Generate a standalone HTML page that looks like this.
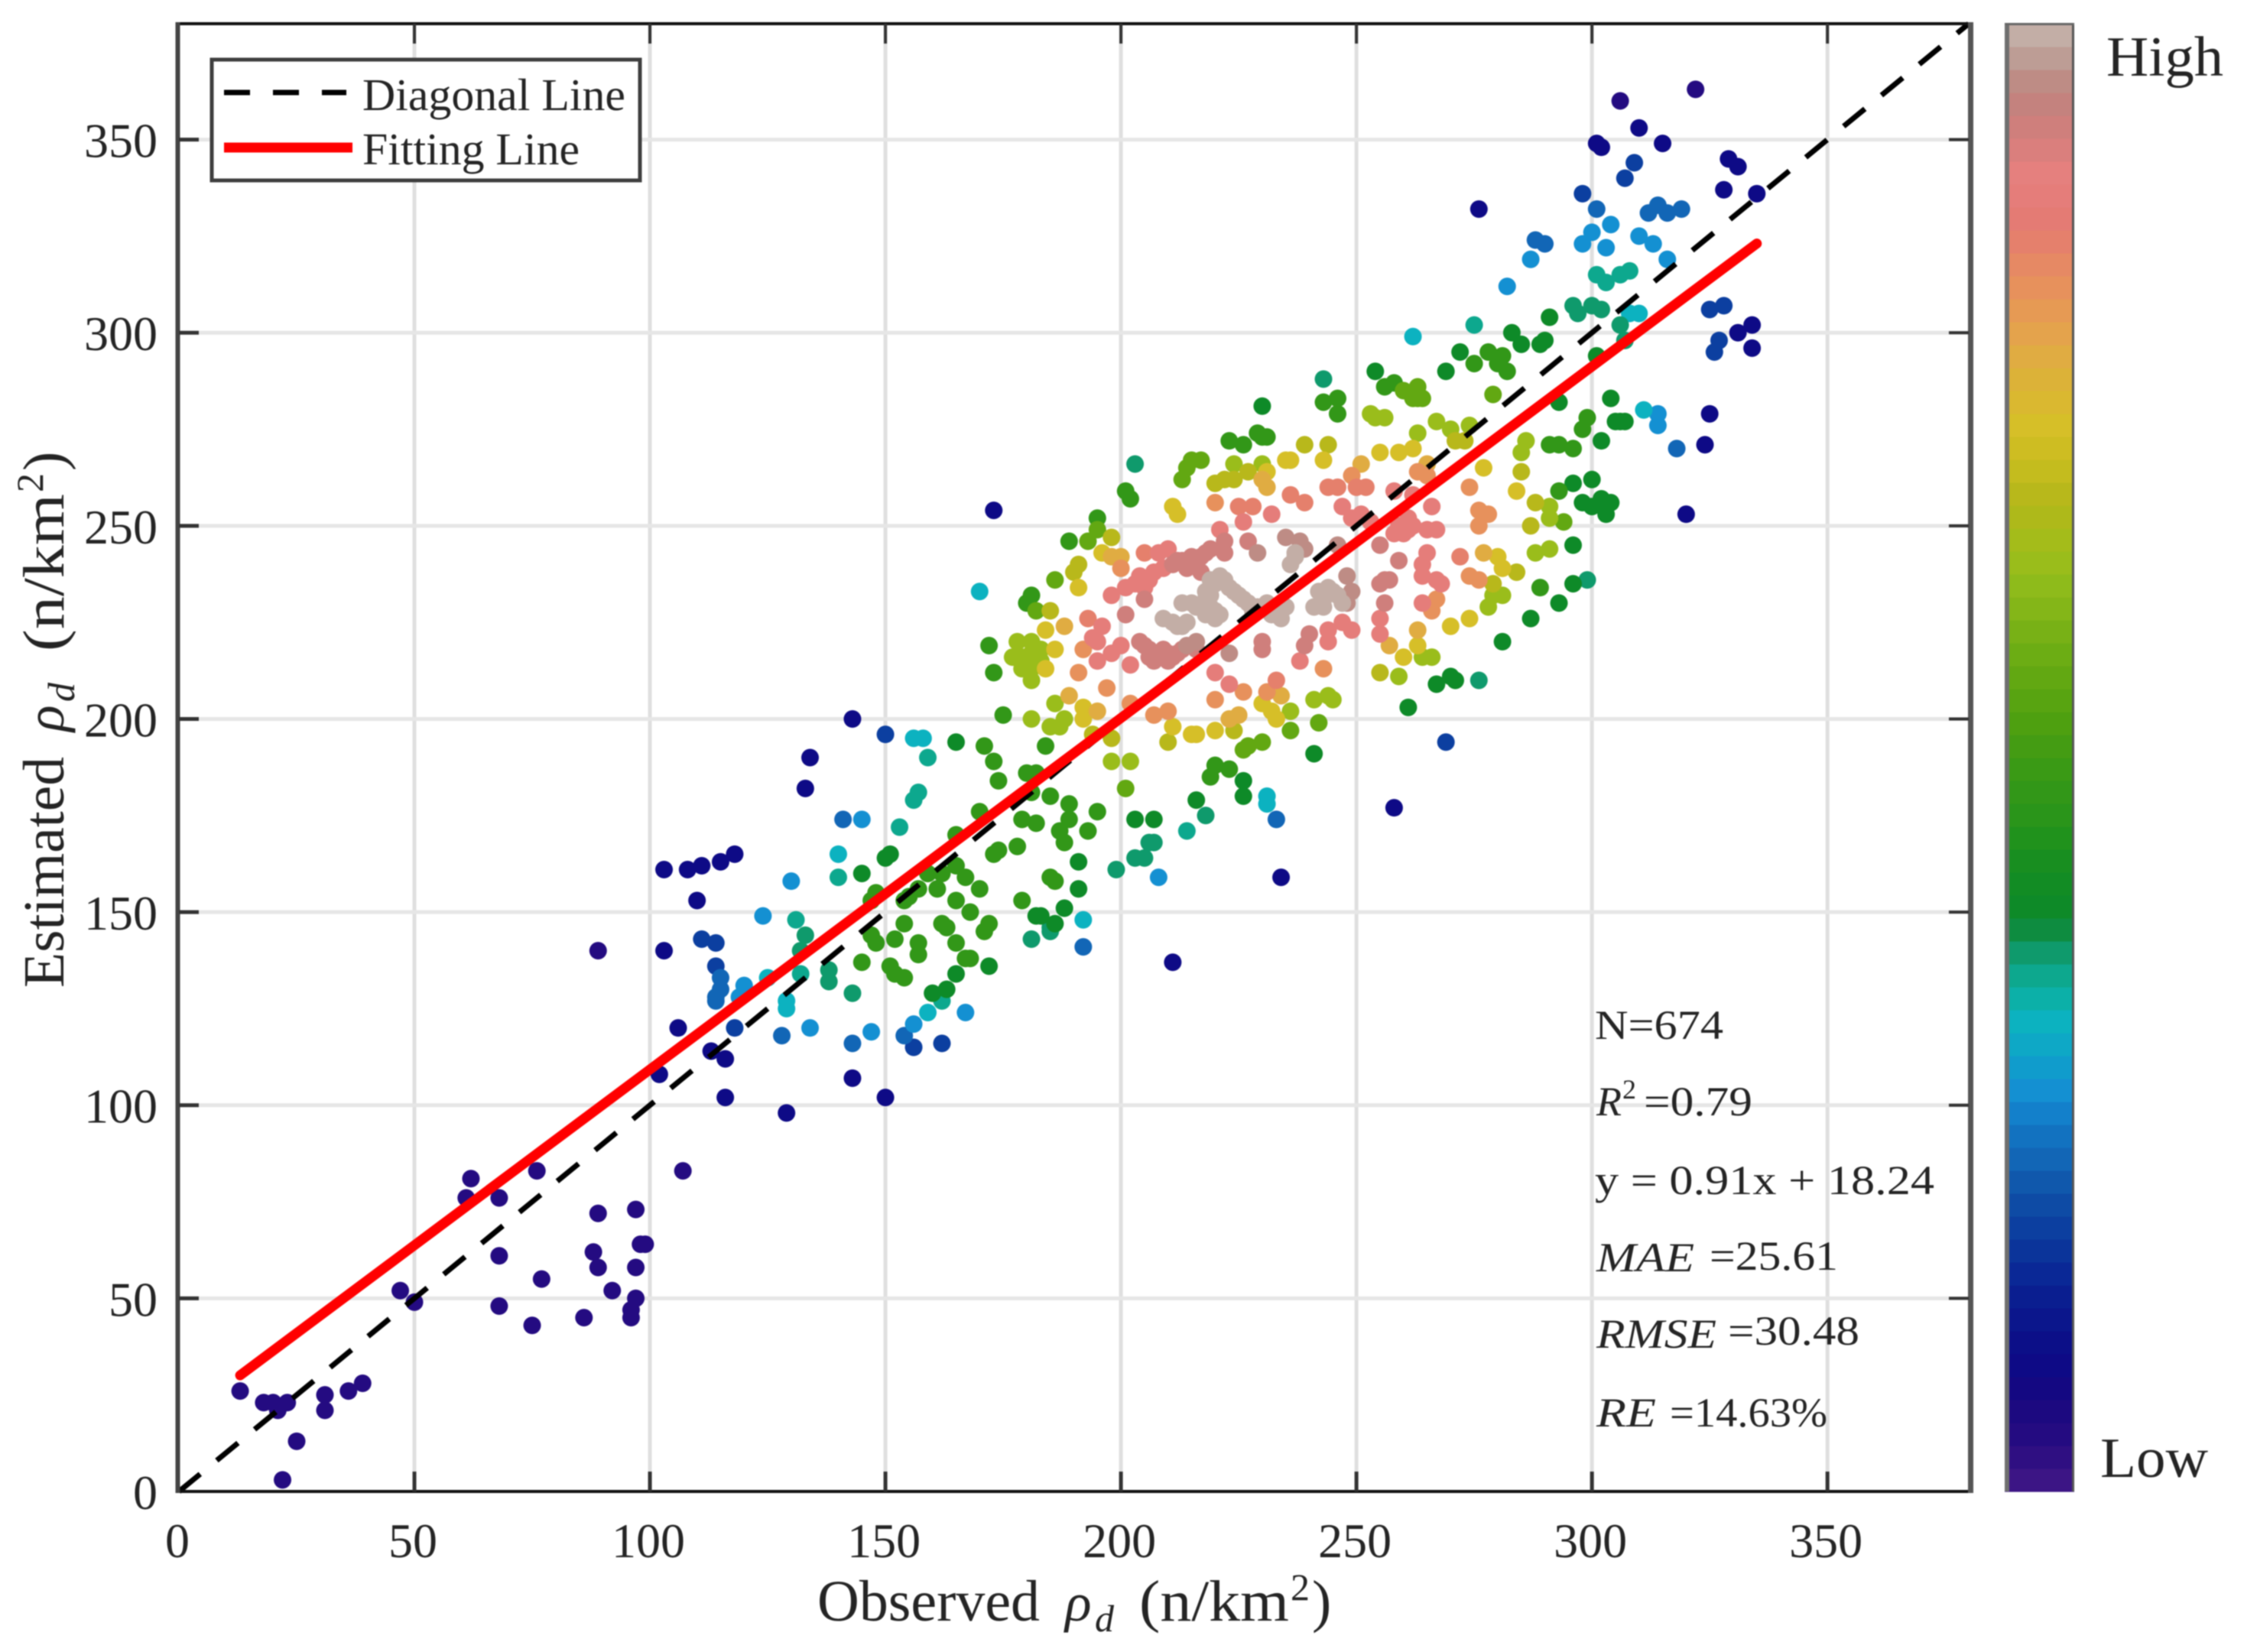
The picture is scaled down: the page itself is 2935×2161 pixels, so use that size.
<!DOCTYPE html>
<html lang="en">
<head>
<meta charset="utf-8">
<title>Observed vs Estimated density scatter</title>
<style>
html,body{margin:0;padding:0;background:#fff;width:2935px;height:2161px;overflow:hidden}
svg{display:block;filter:blur(0.8px)}
text{font-family:"Liberation Serif",serif;fill:#242424}
</style>
</head>
<body>
<svg id="chart" xmlns="http://www.w3.org/2000/svg" width="2935" height="2161" viewBox="0 0 2935 2161">
<rect x="0" y="0" width="2935" height="2161" fill="#fff"/>
<g id="grid"></g>
<g id="points"></g>
<g id="lines"></g>
<g id="axes"></g>
<g id="colorbar"></g>

<text x="1069" y="2120" font-size="76" textLength="291" lengthAdjust="spacingAndGlyphs">Observed</text>
<text x="1393" y="2120" font-size="72" font-style="italic">ρ</text>
<text x="1432" y="2134" font-size="50" font-style="italic">d</text>
<text x="1490" y="2120" font-size="76" textLength="196" lengthAdjust="spacingAndGlyphs">(n/km</text>
<text x="1688" y="2093" font-size="50">2</text>
<text x="1716" y="2120" font-size="76">)</text>

<g transform="translate(83,1292) rotate(-90)">
<text x="0" y="0" font-size="76" textLength="302" lengthAdjust="spacingAndGlyphs">Estimated</text>
<text x="335" y="0" font-size="72" font-style="italic">ρ</text>
<text x="374" y="14" font-size="50" font-style="italic">d</text>
<text x="440" y="0" font-size="76" textLength="206" lengthAdjust="spacingAndGlyphs">(n/km</text>
<text x="648" y="-27" font-size="50">2</text>
<text x="676" y="0" font-size="76">)</text>
</g>

<g>
<rect x="277" y="78" width="560" height="158" fill="#fff" stroke="#3e3e3e" stroke-width="5"/>
<line x1="293" y1="121" x2="453" y2="121" stroke="#000" stroke-width="7" stroke-dasharray="34 30"/>
<line x1="293" y1="193" x2="461" y2="193" stroke="#ff0000" stroke-width="13"/>
<text x="474" y="144" font-size="59" textLength="344" lengthAdjust="spacingAndGlyphs">Diagonal Line</text>
<text x="474" y="215" font-size="59" textLength="284" lengthAdjust="spacingAndGlyphs">Fitting Line</text>
</g>

<g>
<text x="2086" y="1359" font-size="54" textLength="168" lengthAdjust="spacingAndGlyphs">N=674</text>
<text x="2088" y="1459" font-size="54" font-style="italic">R</text>
<text x="2122" y="1437" font-size="36">2</text>
<text x="2150" y="1459" font-size="54" textLength="142" lengthAdjust="spacingAndGlyphs">=0.79</text>
<text x="2086" y="1562" font-size="54" textLength="444" lengthAdjust="spacingAndGlyphs">y = 0.91x + 18.24</text>
<text x="2088" y="1663" font-size="54" font-style="italic" textLength="128" lengthAdjust="spacingAndGlyphs">MAE</text>
<text x="2236" y="1661" font-size="54" textLength="168" lengthAdjust="spacingAndGlyphs">=25.61</text>
<text x="2088" y="1763" font-size="54" font-style="italic" textLength="157" lengthAdjust="spacingAndGlyphs">RMSE</text>
<text x="2260" y="1759" font-size="54" textLength="172" lengthAdjust="spacingAndGlyphs">=30.48</text>
<text x="2088" y="1866" font-size="54" font-style="italic" textLength="78" lengthAdjust="spacingAndGlyphs">RE</text>
<text x="2184" y="1866" font-size="54" textLength="206" lengthAdjust="spacingAndGlyphs">=14.63%</text>
</g>

<text x="2755" y="99" font-size="74" textLength="153" lengthAdjust="spacingAndGlyphs">High</text>
<text x="2747" y="1932" font-size="74" textLength="141" lengthAdjust="spacingAndGlyphs">Low</text>
</svg>

<script>
// Axis ticks
const xTickValues = [0, 50, 100, 150, 200, 250, 300, 350];
const yTickValues = [0, 50, 100, 150, 200, 250, 300, 350];
const axisMax = [380, 380];

// Fit and diagonal lines
const diagonalEnds = [0, 380];
const fitEnds = [13, 335];
const fitSlope = [0.91];
const fitIntercept = [18.24];

// Colormap, low to high
const colorBands = ["#3c1585","#2f0f82","#240b81","#1c0980","#140882","#0e0a86","#0c0f88","#0b168c","#0a1e90","#0a2896","#0b349a","#0c3fa0","#0e4ba5","#1058ac","#1266b6","#1272c0","#1380cb","#1490d2","#109ccc","#0ea8c6","#0cb2c0","#0cb0a8","#0da88e","#0f9a6c","#0e8c40","#0e8a28","#128c24","#188e20","#20921c","#2a951a","#329718","#3a9a15","#449c13","#4ea010","#58a411","#62a812","#6cad14","#78b116","#84b618","#8ebb1b","#9abd1b","#a4bc1a","#aeb91a","#b8b81b","#c4bc1e","#cebd22","#d6bf28","#dab830","#dcb238","#e0ac42","#e4a34c","#e69a54","#e7915c","#e68964","#e5806c","#e47b74","#e57d7a","#e5807e","#da7f7d","#cf7f7c","#c4827e","#be8c85","#bd9d95","#c3aea6"];

// Scatter values grouped by local density level
const observedIndigo = [13,18,20,21,23,22,25,31,31,36,39,47,50,61,62,68,68,68,76,75,77,86,89,88,89,92,97,97,97,96,96,98,99,107,89,322,306];
const estimatedIndigo = [26,23,23,21,23,3,13,25,21,26,28,52,49,76,81,76,61,48,83,43,55,45,72,62,58,52,73,58,50,47,45,64,64,83,140,363,360];
const observedNavy = [103,108,111,115,118,103,106,102,116,129,143,150,116,113,173,134,133,143,211,234,258,276,310,315,301,302,329,331,328,335,331,334,334,324,325,320,110];
const estimatedNavy = [161,161,162,163,165,140,120,108,102,98,107,102,112,114,254,190,182,200,137,159,177,332,353,349,349,348,345,343,337,336,300,302,296,271,279,253,153];
const observedRoyal = [162,150,269,309,307,298,111,114,118,327,326,325,328,156,114];
const estimatedRoyal = [116,196,194,344,340,336,143,142,120,298,295,306,307,115,136];
const observedBlue = [301,312,314,316,319,288,290,141,128,115,115,114,114,154,318,192,233,143];
const estimatedBlue = [332,331,333,331,332,324,323,174,118,133,130,127,128,118,270,141,174,116];
const observedSky = [304,300,298,287,282,145,130,124,120,119,134,147,156,167,208,316,303,310,313,314,314];
const estimatedSky = [328,326,323,319,312,174,158,149,131,128,120,119,121,124,159,319,322,325,323,276,279];
const observedCyan = [129,129,125,156,158,140,262,159,192,231,231,310,308,311,170];
const estimatedCyan = [127,125,133,195,195,165,299,124,148,180,178,305,305,280,233];
const observedTeal = [301,303,306,308,275,159,157,156,131,132,162,153,140,214];
const estimatedTeal = [315,313,315,316,302,190,181,179,148,134,127,172,159,171];
const observedSea = [243,296,297,300,302,306,307,133,132,138,138,143,203,205,207,206,199,218,276,185,185,181,203,299];
const estimatedSea = [288,307,305,307,306,302,298,144,140,135,132,129,164,164,168,168,161,175,210,145,146,143,266,236];
const observedDeepGreen = [165,145,151,150,172,165,191,188,182,183,186,160,163,254,291,283,285,289,290,272,269,301,304,306,305,307,302,287,293,296,261,281,270,271,267,216,226,226,191,203,207,304,302,303,300,298,300,296,296,241,230,293];
const estimatedDeepGreen = [194,160,165,164,136,134,156,151,149,149,147,129,130,290,304,300,297,297,298,295,290,294,283,277,277,277,272,226,230,235,203,220,211,210,209,179,180,184,163,174,174,256,257,253,255,256,262,261,245,191,281,282];
const observedGreen = [171,173,174,148,147,157,155,154,159,162,165,167,170,161,165,168,172,171,162,163,154,147,148,152,157,157,165,167,168,145,151,152,154,170,165,180,181,182,185,189,189,187,188,195,193,179,182,178,173,174,185,186,179,220,223,219,175,172,173,184,223,226,229,231,230,275,278,281,280,282,256,258,243,246,246,201,202,195,189,181,180,289,299,298,291,293,296,293];
const estimatedGreen = [193,189,184,155,153,156,154,153,160,160,162,159,156,156,153,150,147,145,147,146,147,144,142,143,142,139,142,138,138,137,136,134,133,176,170,186,181,186,180,178,174,171,168,176,171,174,173,167,165,166,159,158,153,188,187,185,201,219,212,193,272,271,274,273,273,292,295,294,292,290,286,287,282,283,279,259,257,252,246,232,230,234,278,275,271,271,270,259];
const observedLime = [215,217,214,213,195,193,260,263,262,263,264,279,230,226,227,242,236,201,294,182,186];
const estimatedLime = [267,267,265,262,249,246,285,286,283,283,283,284,194,192,193,199,197,182,251,228,236];
const observedYellowGreen = [224,230,198,202,177,178,179,181,183,179,181,183,181,181,181,253,254,256,267,270,274,263,286,285,291,291,288,291,264,266,259,185,187,188,181,186,236,279,281,278,241,244,245];
const estimatedYellowGreen = [266,266,189,189,216,220,216,217,218,213,213,215,215,220,210,279,278,278,277,275,276,274,272,269,255,252,243,244,216,216,211,198,198,200,200,204,202,232,232,229,205,206,205];
const observedOlive = [220,222,224,227,239,244,198,191,190,285,288,284,210,224,255,271,273,198,194,185,279,287];
const estimatedOlive = [261,262,262,264,271,271,247,240,238,264,256,238,194,197,212,272,272,195,196,228,235,250];
const observedYellow = [235,236,243,211,212,196,191,184,186,184,192,192,215,216,220,255,259,262,277,284,274,270,280,281,263,260,230,232,233,211,231];
const estimatedYellow = [267,267,267,255,253,243,234,223,218,213,203,200,196,196,197,269,269,270,265,259,226,224,242,239,219,216,204,202,200,198,264];
const observedGold = [230,231,198,200,189,188,195,223,225,251,234,265,257,263,277];
const estimatedGold = [262,260,242,242,206,224,202,200,201,266,206,266,219,223,243];
const observedOrange = [220,200,191,197,202,207,210,220,249,263,265,274,276,278,276,243,231,274,276,192,267,266,226];
const estimatedOrange = [256,239,212,208,204,201,202,205,263,264,263,260,254,253,250,213,207,237,236,218,231,228,207];
const observedCoral = [225,228,236,205,193,244,246,250,252,272,233,239];
const estimatedCoral = [255,255,258,243,226,260,260,260,260,242,210,256];
const observedSalmon = [226,232,221,198,196,194,195,198,200,195,208,210,207,204,203,201,209,202,220,223,247,249,251,253,258,262,266,261,258,261,260,265,267,265,264,264,267,268,264,255,255,238,244,244,247,249,206,205,260,259,262];
const estimatedSalmon = [251,253,249,232,224,221,220,217,219,215,243,244,238,237,235,234,239,214,212,209,255,252,253,251,259,258,255,252,248,249,248,249,249,243,240,237,236,235,230,226,222,215,223,220,225,223,236,234,250,250,250];
const observedRose = [213,211,215,217,219,222,222,201,205,204,206,208,210,207,210,212,227,230,230,259,256,255,257,256,240,239,255,214,217,212,214,216,218,205,207,209,211,209,206,213,216];
const estimatedRose = [241,240,242,242,244,243,246,227,231,220,218,217,217,215,215,217,246,218,220,241,236,235,236,230,222,219,245,239,238,241,241,241,243,219,217,216,216,218,216,218,218];
const observedMauve = [229,235,238,246,239,223,248,249,248,214,216];
const estimatedMauve = [243,247,246,245,244,217,237,233,230,219,220];
const observedTaupe = [237,237,236,219,221,223,225,227,218,218,213,215,220,218,231,228,235,234,209,214,212,244,242,246,241,220,222,224,226,219,216,217,219,220,221,229,233,232,211,213,245,243,247,243];
const estimatedTaupe = [243,242,240,236,237,234,232,230,233,231,230,230,228,227,230,228,229,226,226,225,224,234,233,232,229,235,236,233,231,232,229,229,229,226,227,229,228,227,225,224,233,231,230,229];

const densityLevels = [2,5,11,14,17,20,22,23,25,30,35,40,43,46,49,52,54,56,59,61,63];
const observedGroups = [observedIndigo,observedNavy,observedRoyal,observedBlue,observedSky,observedCyan,observedTeal,observedSea,observedDeepGreen,observedGreen,observedLime,observedYellowGreen,observedOlive,observedYellow,observedGold,observedOrange,observedCoral,observedSalmon,observedRose,observedMauve,observedTaupe];
const estimatedGroups = [estimatedIndigo,estimatedNavy,estimatedRoyal,estimatedBlue,estimatedSky,estimatedCyan,estimatedTeal,estimatedSea,estimatedDeepGreen,estimatedGreen,estimatedLime,estimatedYellowGreen,estimatedOlive,estimatedYellow,estimatedGold,estimatedOrange,estimatedCoral,estimatedSalmon,estimatedRose,estimatedMauve,estimatedTaupe];

const NS = "http://www.w3.org/2000/svg";
const plotLeft = 234, plotRight = 2575, plotTop = 31, plotBottom = 1951;
function xScale(v){ return plotLeft + v * (plotRight - plotLeft) / axisMax[0]; }
function yScale(v){ return plotBottom - v * (plotBottom - plotTop) / axisMax[1]; }
function make(tag, attrs, parent){
  const el = document.createElementNS(NS, tag);
  for (const k in attrs) el.setAttribute(k, attrs[k]);
  parent.appendChild(el);
  return el;
}

const gridLayer = document.getElementById("grid");
const pointLayer = document.getElementById("points");
const lineLayer = document.getElementById("lines");
const axesLayer = document.getElementById("axes");
const barLayer = document.getElementById("colorbar");

// Grid lines
xTickValues.forEach(function(v){
  if (v === 0) return;
  const el = make("line", {x1:xScale(v), x2:xScale(v), y1:plotTop, y2:plotBottom, stroke:"#dfdfdf", "stroke-width":5}, gridLayer);
  
  
});
yTickValues.forEach(function(v){
  if (v === 0) return;
  const el = make("line", {x1:plotLeft, x2:plotRight, y1:yScale(v), y2:yScale(v), stroke:"#e6e6e6", "stroke-width":5}, gridLayer);
  
  
});

// Scatter points
densityLevels.forEach(function(level, g){
  const xs = observedGroups[g], ys = estimatedGroups[g];
  xs.forEach(function(x, i){
    const el = make("circle", {cx:xScale(x), cy:yScale(ys[i]), r:11.5, fill:colorBands[level]}, pointLayer);
    
    
  });
});

// Diagonal line
const diagonal = make("line", {x1:xScale(diagonalEnds[0]), y1:yScale(diagonalEnds[0]), x2:xScale(diagonalEnds[1]), y2:yScale(diagonalEnds[1]), stroke:"#000", "stroke-width":7, "stroke-dasharray":"36 28"}, lineLayer);



// Fitting line
function fitValue(x){ return fitSlope[0] * x + fitIntercept[0]; }
const fit = make("line", {x1:xScale(fitEnds[0]), y1:yScale(fitValue(fitEnds[0])), x2:xScale(fitEnds[1]), y2:yScale(fitValue(fitEnds[1])), stroke:"#ff0000", "stroke-width":13, "stroke-linecap":"round"}, lineLayer);



// Frame
const frameTop = make("line", {x1:230, x2:2581, y1:plotTop, y2:plotTop, stroke:"#111", "stroke-width":4}, axesLayer);


const frameBottom = make("line", {x1:230, x2:2581, y1:plotBottom, y2:plotBottom, stroke:"#111", "stroke-width":4}, axesLayer);


const frameLeft = make("line", {x1:232.5, x2:232.5, y1:plotTop - 2, y2:plotBottom + 2, stroke:"#444", "stroke-width":6}, axesLayer);


const frameRight = make("line", {x1:2577.5, x2:2577.5, y1:plotTop - 2, y2:plotBottom + 2, stroke:"#555", "stroke-width":7}, axesLayer);



// X ticks and labels
xTickValues.forEach(function(v){
  if (v !== 0) {
    const bottomTick = make("line", {x1:xScale(v), x2:xScale(v), y1:plotBottom, y2:plotBottom - 26, stroke:"#333", "stroke-width":5}, axesLayer);
    
    
    const topTick = make("line", {x1:xScale(v), x2:xScale(v), y1:plotTop, y2:plotTop + 26, stroke:"#333", "stroke-width":4}, axesLayer);
    
    
  }
  const label = make("text", {x:xScale(v) - 2, y:2037, "font-size":64, "text-anchor":"middle"}, axesLayer);
  label.textContent = String(v);
  
  
});

// Y ticks and labels
yTickValues.forEach(function(v){
  if (v !== 0) {
    const leftTick = make("line", {x1:plotLeft, x2:plotLeft + 26, y1:yScale(v), y2:yScale(v), stroke:"#333", "stroke-width":5}, axesLayer);
    
    
    const rightTick = make("line", {x1:plotRight, x2:plotRight - 26, y1:yScale(v), y2:yScale(v), stroke:"#333", "stroke-width":4}, axesLayer);
    
    
  }
  const label = make("text", {x:206, y:yScale(v) + 23, "font-size":64, "text-anchor":"end"}, axesLayer);
  label.textContent = String(v);
  
  
});

// Colorbar
const barTop = 31, barBottom = 1951, barLeft = 2622, barRight = 2713;
const bandHeight = (barBottom - barTop) / colorBands.length;
colorBands.forEach(function(c, i){
  const el = make("rect", {x:barLeft, y:barBottom - (i + 1) * bandHeight, width:barRight - barLeft, height:bandHeight + 0.6, fill:c}, barLayer);
  
  
});
const barEdgeLeft = make("rect", {x:barLeft, y:barTop, width:6, height:barBottom - barTop, fill:"#6f6f6f"}, barLayer);


const barEdgeRight = make("rect", {x:barRight - 3, y:barTop, width:3, height:barBottom - barTop, fill:"#555"}, barLayer);


const barEdgeTop = make("rect", {x:barLeft, y:barTop - 1, width:barRight - barLeft, height:3, fill:"#666"}, barLayer);


</script>
</body>
</html>
